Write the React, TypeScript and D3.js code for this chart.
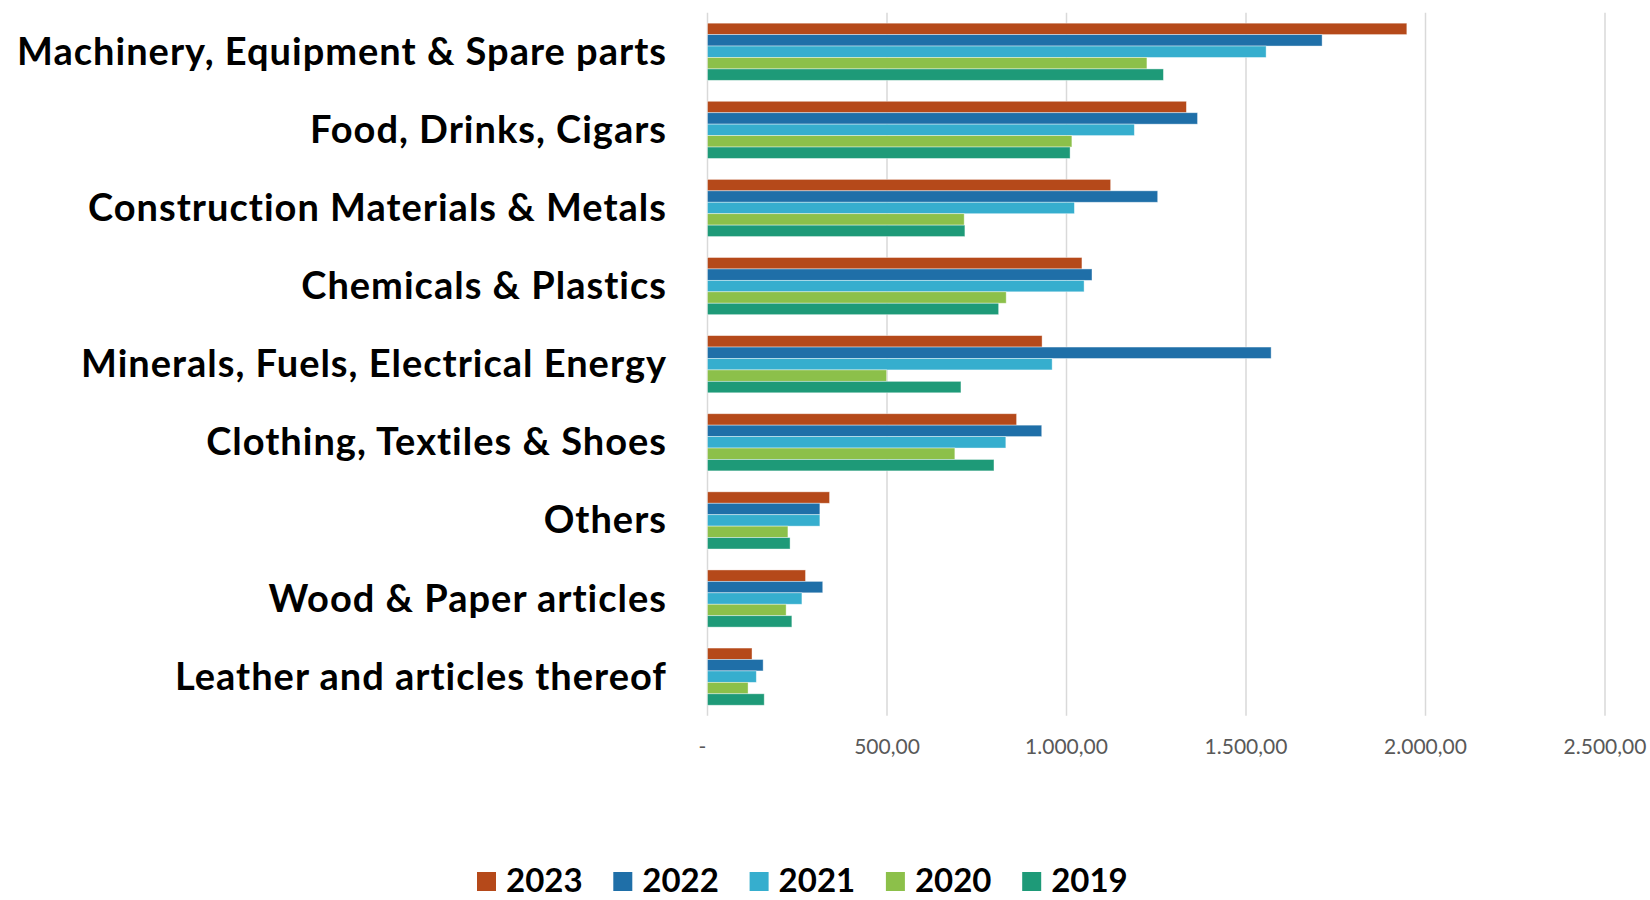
import React from "react";
import * as d3 from "d3";

const categories = [
  "Machinery, Equipment & Spare parts",
  "Food, Drinks, Cigars",
  "Construction Materials & Metals",
  "Chemicals & Plastics",
  "Minerals, Fuels, Electrical Energy",
  "Clothing, Textiles & Shoes",
  "Others",
  "Wood & Paper articles",
  "Leather and articles thereof",
];

const years = ["2023", "2022", "2021", "2020", "2019"];

const values2023 = [1948, 1334, 1123, 1043, 932, 861, 340, 273, 124];
const values2022 = [1712, 1365, 1254, 1071, 1570, 931, 313, 321, 155];
const values2021 = [1556, 1189, 1022, 1049, 960, 831, 313, 263, 136];
const values2020 = [1224, 1015, 715, 832, 499, 689, 224, 219, 113];
const values2019 = [1270, 1010, 717, 811, 706, 798, 230, 235, 158];

const seriesValues = [values2023, values2022, values2021, values2020, values2019];
const seriesColors = ["#B5491A", "#1F6FA8", "#36AECE", "#8CC04A", "#1E9A78"];

const xTicks = [0, 500, 1000, 1500, 2000, 2500];

const W = 1650;
const H = 900;
const left = 707.5;
const right = 1605;
const top = 12.7;
const bottom = 715.7;

const fmt = (v: number) => {
  if (v === 0) return "-";
  const s = d3.format(",.2f")(v);
  return s.replace(/,/g, "#").replace(/\./g, ",").replace(/#/g, ".");
};

export default function App() {
  const x = d3.scaleLinear().domain([0, 2500]).range([left, right]);
  const y = d3
    .scaleBand<string>()
    .domain(categories)
    .range([top, bottom])
    .paddingInner(0.268)
    .paddingOuter(0.134);
  const ySub = d3.scaleBand<string>().domain(years).range([0, y.bandwidth()]);

  const legendX = d3.scaleBand<string>().domain(years).range([477, 477 + 136.3 * 5]);

  return (
    <svg
      width={W}
      height={H}
      style={{ position: "absolute", left: 0, top: 0, background: "#fff" }}
    >
      <rect x={0} y={0} width={W} height={H} fill="#fff" />
      {xTicks.map((t) => (
        <line
          key={"g" + t}
          x1={x(t)}
          x2={x(t)}
          y1={top}
          y2={bottom}
          stroke="#D9D9D9"
          strokeWidth={1.5}
        />
      ))}
      {categories.map((c, i) => (
        <g key={c} transform={`translate(0,${y(c)})`}>
          {years.map((yr, k) => (
            <rect
              key={yr}
              x={x(0)}
              y={ySub(yr)}
              width={x(seriesValues[k][i]) - x(0)}
              height={ySub.bandwidth()}
              fill={seriesColors[k]}
              stroke="#ffffff"
              strokeOpacity={0.5}
              strokeWidth={0.8}
            />
          ))}
          <text
            x={667}
            y={y.bandwidth() / 2 + 13}
            textAnchor="end"
            fontFamily="Lato"
            fontWeight={700}
            fontSize={38}
            letterSpacing={1}
            fill="#000"
          >
            {c}
          </text>
        </g>
      ))}
      {xTicks.map((t) => (
        <text
          key={"t" + t}
          x={t === 0 ? x(t) - 5 : x(t)}
          y={754}
          textAnchor="middle"
          fontFamily="Lato"
          fontSize={21}
          fill="#595959"
        >
          {fmt(t)}
        </text>
      ))}
      {years.map((yr, k) => (
        <g key={"l" + yr} transform={`translate(${legendX(yr)},0)`}>
          <rect x={0} y={872} width={19} height={19} fill={seriesColors[k]} />
          <text
            x={29}
            y={892}
            fontFamily="Lato"
            fontWeight={700}
            fontSize={33}
            fill="#000"
          >
            {yr}
          </text>
        </g>
      ))}
    </svg>
  );
}
